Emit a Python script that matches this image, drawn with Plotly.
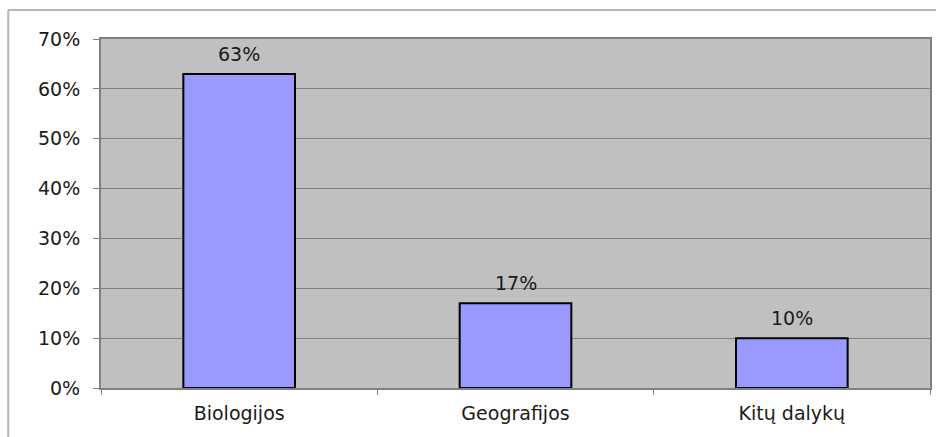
import plotly.graph_objects as go

categories = ["Biologijos", "Geografijos", "Kitų dalykų"]
shares = [63, 17, 10]
tick_vals = [0, 10, 20, 30, 40, 50, 60, 70]
tick_text = ["0%", "10%", "20%", "30%", "40%", "50%", "60%", "70%"]

FONT = "DejaVu Sans, Verdana, sans-serif"
TEXT_COLOR = "#1a1a1a"
FONT_SIZE = 19

fig = go.Figure(
    go.Bar(
        x=categories,
        y=shares,
        width=0.404,
        marker=dict(color="#9999FF", line=dict(color="#000000", width=2)),
        hoverinfo="x+y",
    )
)

# Value labels above each bar
for cat, val in zip(categories, shares):
    fig.add_annotation(
        x=cat, y=val, xref="x", yref="y",
        text=f"{val}%", showarrow=False,
        yanchor="bottom", yshift=7,
        font=dict(family=FONT, size=FONT_SIZE, color=TEXT_COLOR),
    )

fig.update_layout(
    width=936,
    height=437,
    margin=dict(l=101, r=4, t=39, b=49),
    paper_bgcolor="#FFFFFF",
    plot_bgcolor="#C0C0C0",
    showlegend=False,
    font=dict(family=FONT, size=FONT_SIZE, color=TEXT_COLOR),
)

fig.update_xaxes(
    type="category",
    tickson="boundaries",
    ticks="outside",
    ticklen=5,
    tickcolor="#808080",
    showline=True,
    linecolor="#808080",
    linewidth=2,
    mirror=True,
    showgrid=False,
    ticklabelstandoff=7,
    tickfont=dict(family=FONT, size=FONT_SIZE, color=TEXT_COLOR),
)

fig.update_yaxes(
    range=[0, 70],
    tickvals=tick_vals,
    ticktext=tick_text,
    ticks="outside",
    ticklen=6,
    tickcolor="#808080",
    showline=True,
    linecolor="#808080",
    linewidth=2,
    mirror=True,
    showgrid=True,
    gridcolor="#808080",
    gridwidth=1,
    zeroline=False,
    ticklabelstandoff=9,
    tickfont=dict(family=FONT, size=FONT_SIZE, color=TEXT_COLOR),
)

# Outer frame of the chart object (top and left edges)
frame = dict(color="#B4B4B4", width=2)
fig.add_shape(type="line", xref="paper", yref="paper",
              x0=-0.1119, x1=1.01, y0=1.0831, y1=1.0831, line=frame)
fig.add_shape(type="line", xref="paper", yref="paper",
              x0=-0.1119, x1=-0.1119, y0=1.0831, y1=-0.15, line=frame)

fig.write_html("out.html")
